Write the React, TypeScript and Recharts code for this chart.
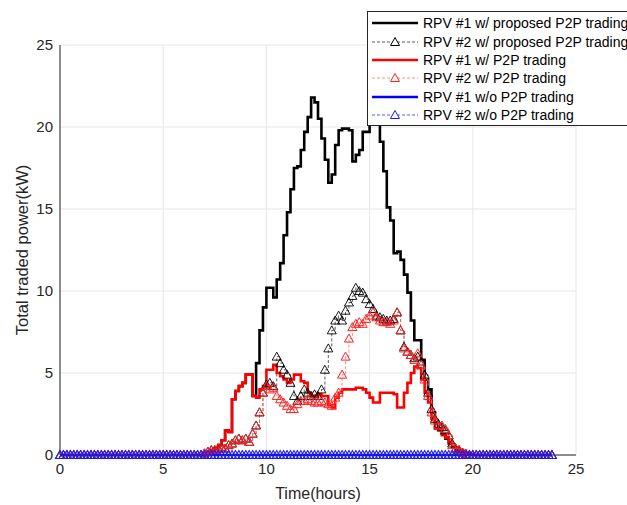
import { LineChart, Line, XAxis, YAxis, CartesianGrid, Legend } from 'recharts';

// 10-minute slots over one day; traded power is only non-zero from 07:00 to 20:00
const SLOTS_PER_HOUR = 6;
const TOTAL_SLOTS = 144;
const FIRST_ACTIVE_SLOT = 42;

// RPV #1 w/ proposed P2P trading (kW), from 07:00
const rpv1Proposed = [
  0.1, 0.2, 0.3, 0.4, 0.6, 0.9, 1.5, 1.4, 3.4, 3.9, 4.2, 4.4, 4.9, 4.9, 3.6,
  5.6, 7.6, 9.0, 10.2, 10.2, 9.6, 10.7, 11.7, 13.4, 14.8, 16.2, 17.5, 17.6, 18.6,
  19.7, 20.6, 21.8, 21.5, 20.5, 19.3, 18.0, 16.6, 17.1, 18.9, 19.8, 19.9, 19.9,
  19.8, 17.9, 18.3, 18.6, 19.7, 19.7, 20.5, 20.7, 20.4, 19.1, 17.3, 15.1, 14.3,
  12.3, 12.4, 11.9, 11.0, 9.9, 8.2, 7.0, 7.0, 5.8, 4.6, 4.0, 2.6, 2.0, 1.6, 1.3,
  1.0, 0.7, 0.5, 0.3, 0.2, 0.1, 0.05, 0,
];

// RPV #2 w/ proposed P2P trading (kW), from 07:00
const rpv2Proposed = [
  0.1, 0.2, 0.3, 0.3, 0.4, 0.5, 0.4, 0.6, 0.7, 0.9, 1.0, 0.9, 1.0, 0.8, 1.3,
  1.8, 2.6, 3.8, 4.3, 4.4, 4.2, 6.0, 5.6, 5.2, 4.9, 4.4, 3.6, 3.3, 3.6, 4.0, 3.8,
  3.6, 3.7, 3.6, 4.0, 5.2, 6.5, 7.6, 8.2, 8.5, 8.2, 8.8, 9.3, 9.7, 10.2, 10.0,
  9.9, 9.5, 9.2, 8.9, 8.5, 8.4, 8.3, 8.2, 8.2, 8.3, 8.7, 7.6, 6.6, 6.3, 6.1, 5.9,
  6.0, 5.7, 4.9, 3.8, 2.8, 2.2, 1.9, 1.7, 1.5, 1.2, 0.7, 0.4, 0.3, 0.15, 0.05, 0,
];

// RPV #1 w/ P2P trading (kW), from 07:00
const rpv1P2P = [
  0.1, 0.2, 0.3, 0.4, 0.6, 0.9, 1.5, 1.4, 3.4, 3.9, 4.2, 4.4, 4.9, 4.9, 3.6,
  3.5, 4.0, 4.2, 5.2, 5.2, 5.5, 5.0, 4.8, 4.6, 4.4, 4.6, 4.9, 4.9, 4.5, 4.4, 3.8,
  3.6, 3.6, 3.7, 3.6, 3.6, 3.05, 2.9, 3.5, 3.8, 4.0, 4.0, 4.0, 4.0, 4.1, 4.1,
  4.0, 3.8, 3.5, 3.2, 3.2, 3.8, 3.8, 3.8, 3.8, 3.7, 2.9, 2.9, 3.8, 4.4, 5.0, 5.4,
  5.3, 4.6, 3.8, 3.2, 2.2, 1.6, 1.5, 1.2, 1.1, 0.8, 0.5, 0.45, 0.3, 0.25, 0.1, 0.05,
];

// RPV #2 w/ P2P trading (kW), from 07:00
const rpv2P2P = [
  0.1, 0.2, 0.3, 0.3, 0.4, 0.5, 0.4, 0.6, 0.7, 0.9, 1.0, 0.9, 1.0, 0.8, 1.3,
  1.8, 2.6, 3.8, 4.2, 4.0, 4.1, 3.6, 3.4, 3.2, 3.0, 2.8, 2.8, 3.1, 3.3, 3.3, 3.4,
  3.3, 3.2, 3.2, 3.3, 3.2, 3.1, 3.0, 3.5, 3.8, 4.9, 6.0, 7.1, 7.8, 8.0, 8.1, 8.0,
  8.3, 8.5, 8.7, 8.4, 8.2, 8.1, 8.1, 8.0, 8.2, 8.7, 7.6, 6.5, 6.3, 6.1, 5.8, 6.2,
  5.5, 4.6, 3.6, 2.6, 2.1, 1.8, 1.8, 1.6, 1.2, 0.6, 0.4, 0.3, 0.15, 0.05, 0,
];

// without P2P trading nothing is traded
const noP2P = 0;

const xTicks = [0, 5, 10, 15, 20, 25];
const yTicks = [0, 5, 10, 15, 20, 25];

const legendLabels = [
  'RPV #1 w/ proposed P2P trading',
  'RPV #2 w/ proposed P2P trading',
  'RPV #1 w/ P2P trading',
  'RPV #2 w/ P2P trading',
  'RPV #1 w/o P2P trading',
  'RPV #2 w/o P2P trading',
];

const pick = (arr: number[], k: number) => arr[k - FIRST_ACTIVE_SLOT] ?? 0;

const rows = Array.from({ length: TOTAL_SLOTS }, (_, k) => ({
  t: k / SLOTS_PER_HOUR,
  a1: pick(rpv1Proposed, k),
  a2: pick(rpv2Proposed, k),
  b1: pick(rpv1P2P, k),
  b2: pick(rpv2P2P, k),
  c1: noP2P,
  c2: noP2P,
}));

const triPath = (cx: number, cy: number) =>
  `M${cx},${cy - 4.5}L${cx + 4.5},${cy + 3.5}L${cx - 4.5},${cy + 3.5}Z`;

const triangle = (color: string, w = 0.9) => (props: any) => {
  const { cx, cy, index } = props;
  if (cx == null || cy == null) return <g key={index} />;
  return <path key={index} d={triPath(cx, cy)} fill="none" stroke={color} strokeWidth={w} />;
};

const styles = [
  { line: '#000000', width: 2.6, dash: undefined, marker: null },
  { line: '#333333', width: 0.8, dash: '3 2', marker: '#000000' },
  { line: '#ff0000', width: 2.6, dash: undefined, marker: null },
  { line: '#ff7070', width: 0.8, dash: '3 2', marker: '#ff2020' },
  { line: '#0000ff', width: 2.6, dash: undefined, marker: null },
  { line: '#3030ff', width: 0.8, dash: '3 2', marker: '#1a1aff' },
];

function LegendBox() {
  return (
    <svg width={262} height={116} style={{ display: 'block' }}>
      <rect x={0.5} y={0.5} width={280} height={114} fill="#fff" stroke="#262626" />
      {legendLabels.map((label, i) => {
        const y = [12, 31, 49, 67, 86, 104][i];
        const s = styles[i];
        return (
          <g key={label}>
            <line x1={5} x2={51} y1={y} y2={y} stroke={s.line} strokeWidth={s.width} strokeDasharray={s.dash} />
            {s.marker && (
              <path d={triPath(28, y)} fill="#fff" stroke={s.marker} strokeWidth={1} />
            )}
            <text x={56} y={y} dominantBaseline="central" fontSize={14} fill="#000">
              {label}
            </text>
          </g>
        );
      })}
    </svg>
  );
}

export default function App() {
  const tickStyle = { fontSize: 15, fill: '#262626', fontFamily: 'Arial, "Liberation Sans", sans-serif' };
  return (
    <div style={{ position: 'absolute', left: 0, top: 0, width: 627, height: 505, overflow: 'hidden', background: '#fff', fontFamily: 'Arial, "Liberation Sans", sans-serif' }}>
      <LineChart width={627} height={505} data={rows} margin={{ top: 45, right: 51, left: 0, bottom: 0 }}>
        <CartesianGrid stroke="#e6e6e6" />
        <XAxis
          dataKey="t"
          type="number"
          domain={[0, 25]}
          ticks={xTicks}
          height={50}
          tickSize={0}
          tickMargin={8}
          tick={tickStyle}
          stroke="#262626"
          label={{ value: 'Time(hours)', position: 'insideBottom', offset: 6, fontSize: 16, fill: '#262626' }}
        />
        <YAxis
          type="number"
          domain={[0, 25]}
          ticks={yTicks}
          width={60}
          tickSize={0}
          tickMargin={7}
          tick={tickStyle}
          stroke="#262626"
          label={{ value: 'Total traded power(kW)', angle: -90, position: 'insideLeft', offset: 22, fontSize: 16.5, fill: '#262626', style: { textAnchor: 'middle' } }}
        />
        <Line type="stepAfter" dataKey="a1" stroke={styles[0].line} strokeWidth={styles[0].width} dot={false} isAnimationActive={false} />
        <Line type="stepAfter" dataKey="a2" stroke={styles[1].line} strokeWidth={styles[1].width} strokeDasharray={styles[1].dash} dot={triangle('#000000')} isAnimationActive={false} />
        <Line type="stepAfter" dataKey="b1" stroke={styles[2].line} strokeWidth={styles[2].width} dot={false} isAnimationActive={false} />
        <Line type="stepAfter" dataKey="b2" stroke={styles[3].line} strokeWidth={styles[3].width} strokeDasharray={styles[3].dash} dot={triangle('#ff2020', 1)} isAnimationActive={false} />
        <Line type="stepAfter" dataKey="c1" stroke={styles[4].line} strokeWidth={styles[4].width} dot={false} isAnimationActive={false} />
        <Line type="stepAfter" dataKey="c2" stroke={styles[5].line} strokeWidth={styles[5].width} strokeDasharray={styles[5].dash} dot={triangle('#1a1aff', 1.1)} isAnimationActive={false} />
        <Legend
          layout="vertical"
          align="center"
          verticalAlign="middle"
          content={() => <LegendBox />}
          wrapperStyle={{ left: 367, top: 11, width: 262, height: 116 }}
        />
      </LineChart>
    </div>
  );
}
